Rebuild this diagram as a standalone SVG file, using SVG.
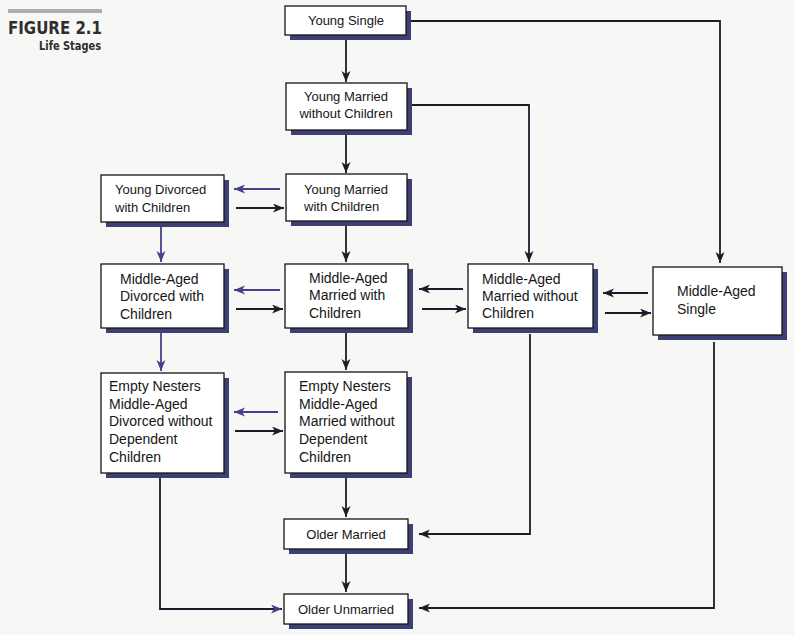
<svg xmlns="http://www.w3.org/2000/svg" width="794" height="635" viewBox="0 0 794 635">
<defs>
<style>
.bg{fill:#f7f7f5}
.sh{fill:#3e3f74}
.bx{fill:#ffffff;stroke:#151515;stroke-width:1.3}
.t{font-family:"Liberation Sans",Arial,sans-serif;font-size:13px;fill:#161616}
.t14{font-size:14px}
.c{text-anchor:middle}
.ln{fill:none;stroke:#1c1c2c;stroke-width:1.8;marker-end:url(#ad)}
.lp{fill:none;stroke:#463f8c;stroke-width:1.8;marker-end:url(#ap)}
.lm{fill:none;stroke:#1c1c2c;stroke-width:1.8;marker-end:url(#ap)}
</style>
<marker id="ad" markerUnits="userSpaceOnUse" markerWidth="12" markerHeight="10" refX="11" refY="4.5" orient="auto">
<path d="M0,0 L11,4.5 L0,9 L3,4.5 Z" fill="#1c1c2c"/>
</marker>
<marker id="ap" markerUnits="userSpaceOnUse" markerWidth="12" markerHeight="10" refX="11" refY="4.5" orient="auto">
<path d="M0,0 L11,4.5 L0,9 L3,4.5 Z" fill="#463f8c"/>
</marker>
</defs>
<rect class="bg" x="0" y="0" width="794" height="635"/>

<g id="title">
<rect x="8" y="9" width="94" height="4" fill="#a9adb5"/>
<text x="8" y="34" font-family="'DejaVu Sans Condensed','DejaVu Sans',sans-serif" font-stretch="condensed" font-size="17" font-weight="bold" fill="#2e2e2e" textLength="94" lengthAdjust="spacingAndGlyphs">FIGURE 2.1</text>
<text x="101" y="50" text-anchor="end" font-family="'DejaVu Sans Condensed','DejaVu Sans',sans-serif" font-stretch="condensed" font-size="12" font-weight="bold" fill="#2e2e2e" textLength="62" lengthAdjust="spacingAndGlyphs">Life Stages</text>
</g>

<g id="connectors">
<path class="ln" d="M346,40 V82"/>
<path class="ln" d="M346,135 V173"/>
<path class="ln" d="M406,21 H720 V263"/>
<path class="ln" d="M407,105 H529 V262"/>
<path class="lp" d="M280,189 H234"/>
<path class="ln" d="M236,208 H284"/>
<path class="lp" d="M161,227 V262"/>
<path class="ln" d="M346,226 V262"/>
<path class="lp" d="M280,290 H234"/>
<path class="ln" d="M236,309 H283"/>
<path class="ln" d="M463,289 H419"/>
<path class="ln" d="M422,309 H466"/>
<path class="ln" d="M648,293 H603"/>
<path class="ln" d="M605,313 H651"/>
<path class="lp" d="M161,333 V371"/>
<path class="ln" d="M346,333 V370"/>
<path class="lp" d="M278,412 H234"/>
<path class="ln" d="M235,431 H283"/>
<path class="ln" d="M346,478 V517"/>
<path class="ln" d="M530,334 V534 H419"/>
<path class="ln" d="M346,554 V592"/>
<path class="lm" d="M160,478 V609 H282"/>
<path class="ln" d="M714,342 V608 H419"/>
</g>

<g id="young-single">
<rect class="sh" x="290" y="11" width="121" height="29"/>
<rect class="bx" x="285" y="6" width="121" height="29"/>
<text class="t c" x="346" y="25">Young Single</text>
</g>

<g id="young-married-without-children">
<rect class="sh" x="291" y="88" width="121" height="47"/>
<rect class="bx" x="286" y="83" width="121" height="47"/>
<text class="t c" x="346" y="101">Young Married</text>
<text class="t c" x="346" y="118">without Children</text>
</g>

<g id="young-married-with-children">
<rect class="sh" x="291" y="179" width="121" height="47"/>
<rect class="bx" x="286" y="174" width="121" height="47"/>
<text class="t" x="304" y="194">Young Married</text>
<text class="t" x="304" y="211">with Children</text>
</g>

<g id="young-divorced-with-children">
<rect class="sh" x="106" y="180" width="123" height="47"/>
<rect class="bx" x="101" y="175" width="123" height="47"/>
<text class="t" x="115" y="194">Young Divorced</text>
<text class="t" x="115" y="212">with Children</text>
</g>

<g id="middle-aged-divorced-with-children">
<rect class="sh" x="106" y="269" width="123" height="64"/>
<rect class="bx" x="101" y="264" width="123" height="64"/>
<text class="t t14" x="120" y="284">Middle-Aged</text>
<text class="t t14" x="120" y="301">Divorced with</text>
<text class="t t14" x="120" y="319">Children</text>
</g>

<g id="middle-aged-married-with-children">
<rect class="sh" x="290" y="269" width="123" height="64"/>
<rect class="bx" x="285" y="264" width="123" height="64"/>
<text class="t t14" x="309" y="283">Middle-Aged</text>
<text class="t t14" x="309" y="300">Married with</text>
<text class="t t14" x="309" y="318">Children</text>
</g>

<g id="middle-aged-married-without-children">
<rect class="sh" x="473" y="269" width="125" height="64"/>
<rect class="bx" x="468" y="264" width="125" height="64"/>
<text class="t t14" x="482" y="284">Middle-Aged</text>
<text class="t t14" x="482" y="301">Married without</text>
<text class="t t14" x="482" y="318">Children</text>
</g>

<g id="middle-aged-single">
<rect class="sh" x="658" y="272" width="129" height="68"/>
<rect class="bx" x="653" y="267" width="129" height="68"/>
<text class="t t14" x="677" y="296">Middle-Aged</text>
<text class="t t14" x="677" y="314">Single</text>
</g>

<g id="empty-nesters-divorced">
<rect class="sh" x="106" y="378" width="123" height="100"/>
<rect class="bx" x="101" y="373" width="123" height="100"/>
<text class="t t14" x="109" y="391">Empty Nesters</text>
<text class="t t14" x="109" y="409">Middle-Aged</text>
<text class="t t14" x="109" y="426">Divorced without</text>
<text class="t t14" x="109" y="444">Dependent</text>
<text class="t t14" x="109" y="462">Children</text>
</g>

<g id="empty-nesters-married">
<rect class="sh" x="290" y="377" width="122" height="101"/>
<rect class="bx" x="285" y="372" width="122" height="101"/>
<text class="t t14" x="299" y="391">Empty Nesters</text>
<text class="t t14" x="299" y="409">Middle-Aged</text>
<text class="t t14" x="299" y="426">Married without</text>
<text class="t t14" x="299" y="444">Dependent</text>
<text class="t t14" x="299" y="462">Children</text>
</g>

<g id="older-married">
<rect class="sh" x="289" y="524" width="124" height="30"/>
<rect class="bx" x="284" y="519" width="124" height="30"/>
<text class="t c" x="346" y="539">Older Married</text>
</g>

<g id="older-unmarried">
<rect class="sh" x="289" y="599" width="124" height="30"/>
<rect class="bx" x="284" y="594" width="124" height="30"/>
<text class="t c" x="346" y="614">Older Unmarried</text>
</g>
</svg>
